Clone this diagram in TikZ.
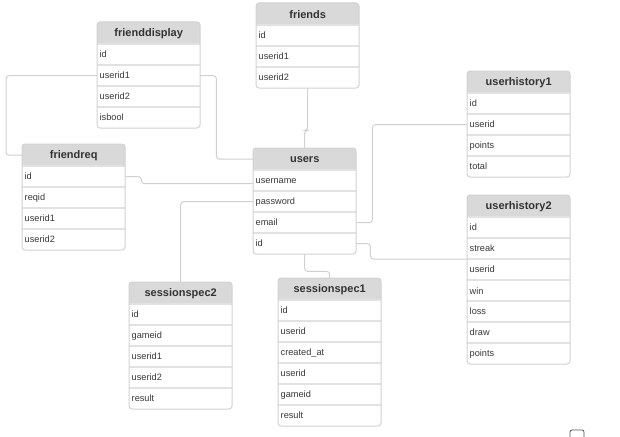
\documentclass[tikz,border=0pt]{standalone}
\usepackage{fontspec}
\setmainfont{Liberation Sans}
\usetikzlibrary{calc}
\definecolor{hdrfill}{HTML}{D9D9D9}
\definecolor{boxline}{HTML}{D2D2D2}
\definecolor{sepline}{HTML}{E2E2E2}
\definecolor{linkline}{HTML}{D0D0D0}
\definecolor{hdrtext}{HTML}{333333}
\definecolor{rowtext}{HTML}{383838}
\tikzset{
  tablebox/.style={draw=boxline, line width=1pt, rounded corners=3pt},
  tablehead/.style={anchor=north west, minimum width=103pt, minimum height=22pt,
    inner sep=0pt, font=\bfseries\fontsize{11}{13}\selectfont, text=hdrtext},
  tablerow/.style={anchor=north west, minimum width=103pt, minimum height=21pt,
    inner xsep=2.5pt, inner ysep=0pt, text width=98pt, align=left,
    font=\fontsize{9.2}{11}\selectfont, text=rowtext},
  rowsep/.style={draw=sepline, line width=1.2pt},
  link/.style={draw=linkline, line width=1pt, rounded corners=3pt},
}
% \ertable{name}{x}{y}{title}{row,row,...}: an entity box, 103pt wide,
% header 22pt, rows 21pt; header node is (name), rows are (name-r1), ...
\newcommand{\ertable}[5]{%
  \foreach \rowtxt [count=\ri] in {#5} {\xdef\errows{\ri}}
  \fill[white, rounded corners=3pt] (#2,#3) rectangle ++(103,22+\errows*21);
  \fill[hdrfill, rounded corners=3pt] (#2,#3) rectangle ++(103,22);
  \fill[hdrfill] (#2,#3+11) rectangle ++(103,11);
  \node[tablehead] (#1) at (#2,#3) {#4};
  \foreach \rowtxt [count=\ri] in {#5} {
    \node[tablerow] (#1-r\ri) at (#2,#3+22+\ri*21-21) {\rowtxt};
    \draw[rowsep] (#2,#3+22+\ri*21-21) -- ++(103,0);
  }
  \draw[tablebox] (#2,#3) rectangle ++(103,22+\errows*21);
}
\begin{document}
\begin{tikzpicture}[x=1pt,y=-1pt]
  \useasboundingbox (0,0) rectangle (620,436);
  \clip (0,0) rectangle (620,436);

  % entities
  \ertable{friends}{256}{3}{friends}{id,userid1,userid2}
  \ertable{frienddisplay}{97}{22}{frienddisplay}{id,userid1,userid2,isbool}
  \ertable{friendreq}{22}{144}{friendreq}{id,reqid,userid1,userid2}
  \ertable{users}{253}{148}{users}{username,password,email,id}
  \ertable{userhistory1}{467}{71}{userhistory1}{id,userid,points,total}
  \ertable{userhistory2}{467}{195}{userhistory2}{id,streak,userid,win,loss,draw,points}
  \ertable{sessionspec2}{129}{282}{sessionspec2}{id,gameid,userid1,userid2,result}
  \ertable{sessionspec1}{278}{278}{sessionspec1}{id,userid,created\_at,userid,gameid,result}

  % relations
  \draw[link] (friends-r3.south) -- ++(0,42) -| (users.north);
  \draw[link] (frienddisplay-r2.east) -- ++(16,0) |- (users.west);
  \draw[link] (frienddisplay-r2.west) -- ++(-91,0) |- (friendreq.west);
  \draw[link] (friendreq-r1.east) -- ++(16,0) |- ([yshift=-3pt]users-r1.west);
  \draw[link] (users-r2.west) -| (sessionspec2.north);
  \draw[link] (users-r3.east) -- ++(16,0) |- (userhistory1-r2.west);
  \draw[link] (users-r4.east) -- ++(14,0) |- (userhistory2-r3.north west);
  \draw[link] (users-r4.south) -- ++(0,17) -| (sessionspec1.north);

  % corner checkbox
  \draw[draw=black!65, line width=0.8pt, rounded corners=2pt] (570,430) rectangle (584,444);
\end{tikzpicture}
\end{document}
